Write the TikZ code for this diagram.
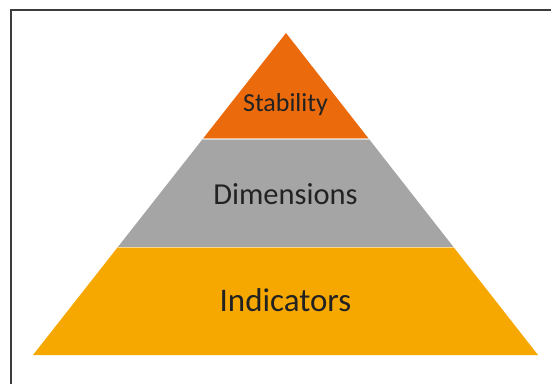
\documentclass[tikz,border=0pt]{standalone}
\usepackage{fontspec}
\setmainfont{Carlito}
\usetikzlibrary{calc}
\definecolor{ink}{HTML}{222222}
\definecolor{frameline}{HTML}{3C3C3C}
\definecolor{topband}{HTML}{EB6A0B}
\definecolor{midband}{HTML}{A5A5A5}
\definecolor{lowband}{HTML}{F7A800}

\begin{document}
\begin{tikzpicture}[x=1bp,y=-1bp,
 seam/.style={draw=white,draw opacity=0.55,line width=1.2bp},
 tier/.style={text=ink,anchor=center,inner sep=0pt}]
\clip (0,0) rectangle (551,383);
\fill[white] (0,0) rectangle (551,383);
\draw[frameline,line width=2bp] (11,10) rectangle (600,420);
% pyramid corners
\coordinate (apex) at (286,33);
\coordinate (bl) at (33,355);
\coordinate (br) at (538,355);
\coordinate (l1) at ($(apex)!0.329!(bl)$);
\coordinate (r1) at ($(apex)!0.329!(br)$);
\coordinate (l2) at ($(apex)!0.665!(bl)$);
\coordinate (r2) at ($(apex)!0.665!(br)$);
% bands
\fill[topband] (apex)--(r1)--(l1)--cycle;
\fill[midband] (l1)--(r1)--(r2)--(l2)--cycle;
\fill[lowband] (l2)--(r2)--(br)--(bl)--cycle;
\draw[seam] (l1)--(r1);
\draw[seam] (l2)--(r2);
% labels
\node[tier,font=\fontsize{26bp}{30bp}\selectfont] (stab) at (285.5,105) {Stability};
\node[tier,font=\fontsize{30.5bp}{34bp}\selectfont] (dims) at (285.5,194) {Dimensions};
\node[tier,font=\fontsize{33bp}{38bp}\selectfont] (inds) at (285.5,300) {Indicators};
\end{tikzpicture}
\end{document}
